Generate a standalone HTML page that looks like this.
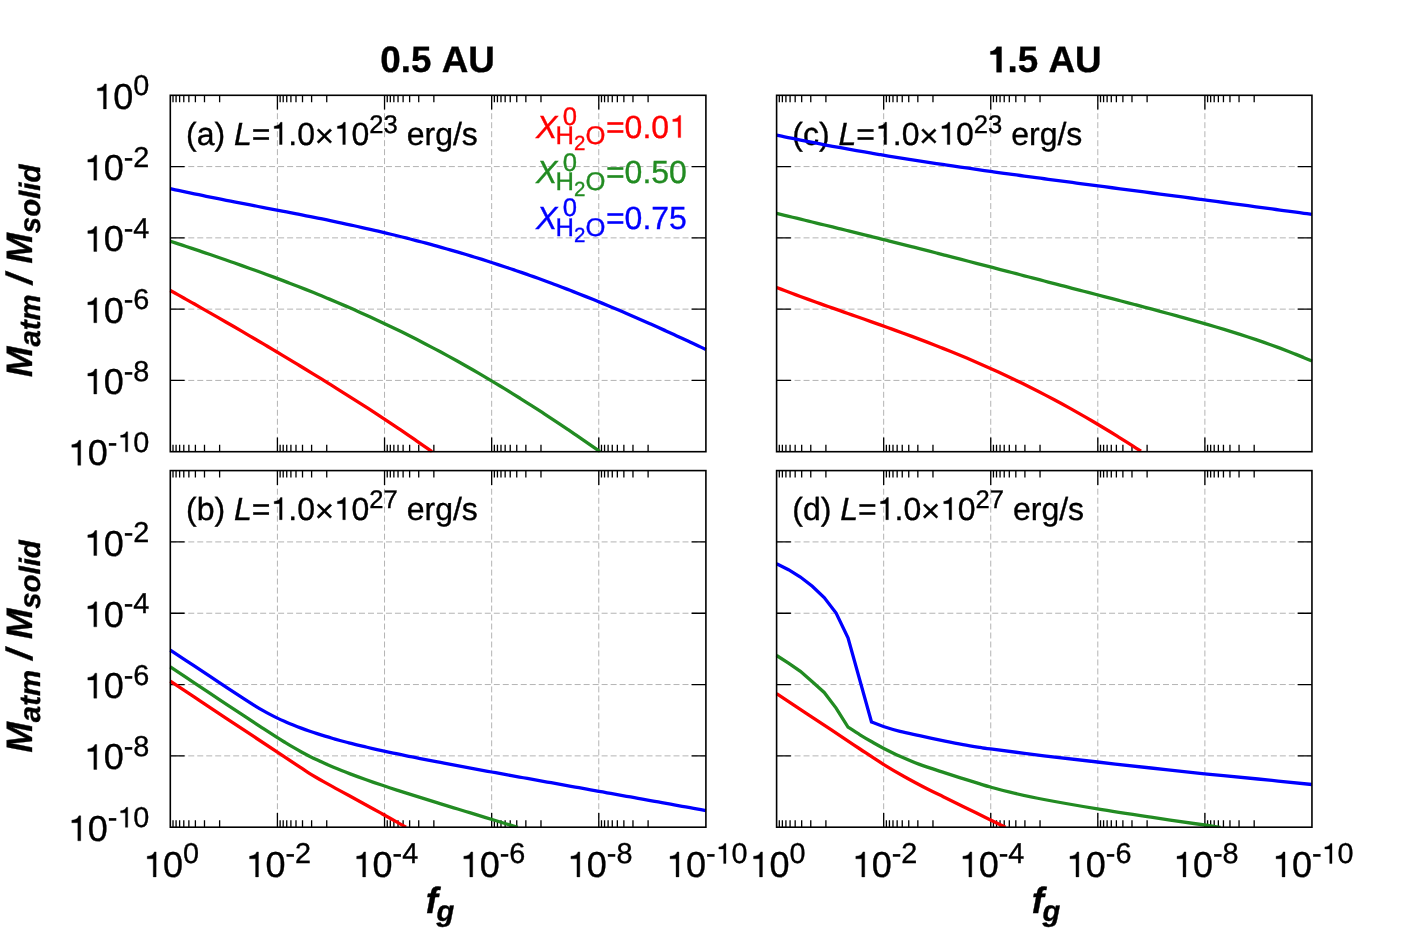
<!DOCTYPE html>
<html><head><meta charset="utf-8"><title>chart</title>
<style>html,body{margin:0;padding:0;background:#fff;overflow:hidden;}svg{display:block;will-change:transform;}text{font-kerning:none;white-space:pre;}</style>
</head><body>
<svg width="1412" height="941" viewBox="0 0 1412 941" font-family='"Liberation Sans", sans-serif' text-rendering="geometricPrecision">
<rect width="1412" height="941" fill="#fff"/>
<defs>
<clipPath id="cpa"><rect x="165.30" y="94.80" width="545.60" height="357.70"/></clipPath>
<clipPath id="cpb"><rect x="165.30" y="470.10" width="545.60" height="357.90"/></clipPath>
<clipPath id="cpc"><rect x="771.60" y="94.80" width="545.35" height="357.70"/></clipPath>
<clipPath id="cpd"><rect x="771.60" y="470.10" width="545.35" height="357.90"/></clipPath>
</defs>
<path d="M277.42,451.70 V95.30 M170.30,166.58 H705.90 M384.54,451.70 V95.30 M170.30,237.86 H705.90 M491.66,451.70 V95.30 M170.30,309.14 H705.90 M598.78,451.70 V95.30 M170.30,380.42 H705.90" stroke="#b4b4b4" stroke-width="1" stroke-dasharray="5.99 2.996" fill="none"/>
<path d="M173.01,95.30 v7.00 M173.01,451.70 v-7.00 M176.08,95.30 v7.00 M176.08,451.70 v-7.00 M179.62,95.30 v7.00 M179.62,451.70 v-7.00 M183.79,95.30 v7.00 M183.79,451.70 v-7.00 M188.87,95.30 v7.00 M188.87,451.70 v-7.00 M195.39,95.30 v7.00 M195.39,451.70 v-7.00 M204.49,95.30 v7.00 M204.49,451.70 v-7.00 M219.62,95.30 v7.00 M219.62,451.70 v-7.00 M277.42,95.30 v14.30 M277.42,451.70 v-14.30 M280.13,95.30 v7.00 M280.13,451.70 v-7.00 M283.20,95.30 v7.00 M283.20,451.70 v-7.00 M286.74,95.30 v7.00 M286.74,451.70 v-7.00 M290.91,95.30 v7.00 M290.91,451.70 v-7.00 M295.99,95.30 v7.00 M295.99,451.70 v-7.00 M302.51,95.30 v7.00 M302.51,451.70 v-7.00 M311.61,95.30 v7.00 M311.61,451.70 v-7.00 M326.74,95.30 v7.00 M326.74,451.70 v-7.00 M384.54,95.30 v14.30 M384.54,451.70 v-14.30 M387.25,95.30 v7.00 M387.25,451.70 v-7.00 M390.32,95.30 v7.00 M390.32,451.70 v-7.00 M393.86,95.30 v7.00 M393.86,451.70 v-7.00 M398.03,95.30 v7.00 M398.03,451.70 v-7.00 M403.11,95.30 v7.00 M403.11,451.70 v-7.00 M409.63,95.30 v7.00 M409.63,451.70 v-7.00 M418.73,95.30 v7.00 M418.73,451.70 v-7.00 M433.86,95.30 v7.00 M433.86,451.70 v-7.00 M491.66,95.30 v14.30 M491.66,451.70 v-14.30 M494.37,95.30 v7.00 M494.37,451.70 v-7.00 M497.44,95.30 v7.00 M497.44,451.70 v-7.00 M500.98,95.30 v7.00 M500.98,451.70 v-7.00 M505.15,95.30 v7.00 M505.15,451.70 v-7.00 M510.23,95.30 v7.00 M510.23,451.70 v-7.00 M516.75,95.30 v7.00 M516.75,451.70 v-7.00 M525.85,95.30 v7.00 M525.85,451.70 v-7.00 M540.98,95.30 v7.00 M540.98,451.70 v-7.00 M598.78,95.30 v14.30 M598.78,451.70 v-14.30 M601.49,95.30 v7.00 M601.49,451.70 v-7.00 M604.56,95.30 v7.00 M604.56,451.70 v-7.00 M608.10,95.30 v7.00 M608.10,451.70 v-7.00 M612.27,95.30 v7.00 M612.27,451.70 v-7.00 M617.35,95.30 v7.00 M617.35,451.70 v-7.00 M623.87,95.30 v7.00 M623.87,451.70 v-7.00 M632.97,95.30 v7.00 M632.97,451.70 v-7.00 M648.10,95.30 v7.00 M648.10,451.70 v-7.00 M170.30,166.58 h14.30 M705.90,166.58 h-14.30 M170.30,237.86 h14.30 M705.90,237.86 h-14.30 M170.30,309.14 h14.30 M705.90,309.14 h-14.30 M170.30,380.42 h14.30 M705.90,380.42 h-14.30" stroke="#000000" stroke-width="1.30" fill="none"/>
<path d="M277.42,827.20 V470.60 M170.30,541.92 H705.90 M384.54,827.20 V470.60 M170.30,613.24 H705.90 M491.66,827.20 V470.60 M170.30,684.56 H705.90 M598.78,827.20 V470.60 M170.30,755.88 H705.90" stroke="#b4b4b4" stroke-width="1" stroke-dasharray="5.99 2.996" fill="none"/>
<path d="M173.01,470.60 v7.00 M173.01,827.20 v-7.00 M176.08,470.60 v7.00 M176.08,827.20 v-7.00 M179.62,470.60 v7.00 M179.62,827.20 v-7.00 M183.79,470.60 v7.00 M183.79,827.20 v-7.00 M188.87,470.60 v7.00 M188.87,827.20 v-7.00 M195.39,470.60 v7.00 M195.39,827.20 v-7.00 M204.49,470.60 v7.00 M204.49,827.20 v-7.00 M219.62,470.60 v7.00 M219.62,827.20 v-7.00 M277.42,470.60 v14.30 M277.42,827.20 v-14.30 M280.13,470.60 v7.00 M280.13,827.20 v-7.00 M283.20,470.60 v7.00 M283.20,827.20 v-7.00 M286.74,470.60 v7.00 M286.74,827.20 v-7.00 M290.91,470.60 v7.00 M290.91,827.20 v-7.00 M295.99,470.60 v7.00 M295.99,827.20 v-7.00 M302.51,470.60 v7.00 M302.51,827.20 v-7.00 M311.61,470.60 v7.00 M311.61,827.20 v-7.00 M326.74,470.60 v7.00 M326.74,827.20 v-7.00 M384.54,470.60 v14.30 M384.54,827.20 v-14.30 M387.25,470.60 v7.00 M387.25,827.20 v-7.00 M390.32,470.60 v7.00 M390.32,827.20 v-7.00 M393.86,470.60 v7.00 M393.86,827.20 v-7.00 M398.03,470.60 v7.00 M398.03,827.20 v-7.00 M403.11,470.60 v7.00 M403.11,827.20 v-7.00 M409.63,470.60 v7.00 M409.63,827.20 v-7.00 M418.73,470.60 v7.00 M418.73,827.20 v-7.00 M433.86,470.60 v7.00 M433.86,827.20 v-7.00 M491.66,470.60 v14.30 M491.66,827.20 v-14.30 M494.37,470.60 v7.00 M494.37,827.20 v-7.00 M497.44,470.60 v7.00 M497.44,827.20 v-7.00 M500.98,470.60 v7.00 M500.98,827.20 v-7.00 M505.15,470.60 v7.00 M505.15,827.20 v-7.00 M510.23,470.60 v7.00 M510.23,827.20 v-7.00 M516.75,470.60 v7.00 M516.75,827.20 v-7.00 M525.85,470.60 v7.00 M525.85,827.20 v-7.00 M540.98,470.60 v7.00 M540.98,827.20 v-7.00 M598.78,470.60 v14.30 M598.78,827.20 v-14.30 M601.49,470.60 v7.00 M601.49,827.20 v-7.00 M604.56,470.60 v7.00 M604.56,827.20 v-7.00 M608.10,470.60 v7.00 M608.10,827.20 v-7.00 M612.27,470.60 v7.00 M612.27,827.20 v-7.00 M617.35,470.60 v7.00 M617.35,827.20 v-7.00 M623.87,470.60 v7.00 M623.87,827.20 v-7.00 M632.97,470.60 v7.00 M632.97,827.20 v-7.00 M648.10,470.60 v7.00 M648.10,827.20 v-7.00 M170.30,541.92 h14.30 M705.90,541.92 h-14.30 M170.30,613.24 h14.30 M705.90,613.24 h-14.30 M170.30,684.56 h14.30 M705.90,684.56 h-14.30 M170.30,755.88 h14.30 M705.90,755.88 h-14.30" stroke="#000000" stroke-width="1.30" fill="none"/>
<path d="M883.67,451.70 V95.30 M776.60,166.58 H1311.95 M990.74,451.70 V95.30 M776.60,237.86 H1311.95 M1097.81,451.70 V95.30 M776.60,309.14 H1311.95 M1204.88,451.70 V95.30 M776.60,380.42 H1311.95" stroke="#b4b4b4" stroke-width="1" stroke-dasharray="5.99 2.996" fill="none"/>
<path d="M779.31,95.30 v7.00 M779.31,451.70 v-7.00 M782.38,95.30 v7.00 M782.38,451.70 v-7.00 M785.91,95.30 v7.00 M785.91,451.70 v-7.00 M790.08,95.30 v7.00 M790.08,451.70 v-7.00 M795.17,95.30 v7.00 M795.17,451.70 v-7.00 M801.68,95.30 v7.00 M801.68,451.70 v-7.00 M810.77,95.30 v7.00 M810.77,451.70 v-7.00 M825.90,95.30 v7.00 M825.90,451.70 v-7.00 M883.67,95.30 v14.30 M883.67,451.70 v-14.30 M886.38,95.30 v7.00 M886.38,451.70 v-7.00 M889.45,95.30 v7.00 M889.45,451.70 v-7.00 M892.98,95.30 v7.00 M892.98,451.70 v-7.00 M897.15,95.30 v7.00 M897.15,451.70 v-7.00 M902.24,95.30 v7.00 M902.24,451.70 v-7.00 M908.75,95.30 v7.00 M908.75,451.70 v-7.00 M917.84,95.30 v7.00 M917.84,451.70 v-7.00 M932.97,95.30 v7.00 M932.97,451.70 v-7.00 M990.74,95.30 v14.30 M990.74,451.70 v-14.30 M993.45,95.30 v7.00 M993.45,451.70 v-7.00 M996.52,95.30 v7.00 M996.52,451.70 v-7.00 M1000.05,95.30 v7.00 M1000.05,451.70 v-7.00 M1004.22,95.30 v7.00 M1004.22,451.70 v-7.00 M1009.31,95.30 v7.00 M1009.31,451.70 v-7.00 M1015.82,95.30 v7.00 M1015.82,451.70 v-7.00 M1024.91,95.30 v7.00 M1024.91,451.70 v-7.00 M1040.04,95.30 v7.00 M1040.04,451.70 v-7.00 M1097.81,95.30 v14.30 M1097.81,451.70 v-14.30 M1100.52,95.30 v7.00 M1100.52,451.70 v-7.00 M1103.59,95.30 v7.00 M1103.59,451.70 v-7.00 M1107.12,95.30 v7.00 M1107.12,451.70 v-7.00 M1111.29,95.30 v7.00 M1111.29,451.70 v-7.00 M1116.38,95.30 v7.00 M1116.38,451.70 v-7.00 M1122.89,95.30 v7.00 M1122.89,451.70 v-7.00 M1131.98,95.30 v7.00 M1131.98,451.70 v-7.00 M1147.11,95.30 v7.00 M1147.11,451.70 v-7.00 M1204.88,95.30 v14.30 M1204.88,451.70 v-14.30 M1207.59,95.30 v7.00 M1207.59,451.70 v-7.00 M1210.66,95.30 v7.00 M1210.66,451.70 v-7.00 M1214.19,95.30 v7.00 M1214.19,451.70 v-7.00 M1218.36,95.30 v7.00 M1218.36,451.70 v-7.00 M1223.45,95.30 v7.00 M1223.45,451.70 v-7.00 M1229.96,95.30 v7.00 M1229.96,451.70 v-7.00 M1239.05,95.30 v7.00 M1239.05,451.70 v-7.00 M1254.18,95.30 v7.00 M1254.18,451.70 v-7.00 M776.60,166.58 h14.30 M1311.95,166.58 h-14.30 M776.60,237.86 h14.30 M1311.95,237.86 h-14.30 M776.60,309.14 h14.30 M1311.95,309.14 h-14.30 M776.60,380.42 h14.30 M1311.95,380.42 h-14.30" stroke="#000000" stroke-width="1.30" fill="none"/>
<path d="M883.67,827.20 V470.60 M776.60,541.92 H1311.95 M990.74,827.20 V470.60 M776.60,613.24 H1311.95 M1097.81,827.20 V470.60 M776.60,684.56 H1311.95 M1204.88,827.20 V470.60 M776.60,755.88 H1311.95" stroke="#b4b4b4" stroke-width="1" stroke-dasharray="5.99 2.996" fill="none"/>
<path d="M779.31,470.60 v7.00 M779.31,827.20 v-7.00 M782.38,470.60 v7.00 M782.38,827.20 v-7.00 M785.91,470.60 v7.00 M785.91,827.20 v-7.00 M790.08,470.60 v7.00 M790.08,827.20 v-7.00 M795.17,470.60 v7.00 M795.17,827.20 v-7.00 M801.68,470.60 v7.00 M801.68,827.20 v-7.00 M810.77,470.60 v7.00 M810.77,827.20 v-7.00 M825.90,470.60 v7.00 M825.90,827.20 v-7.00 M883.67,470.60 v14.30 M883.67,827.20 v-14.30 M886.38,470.60 v7.00 M886.38,827.20 v-7.00 M889.45,470.60 v7.00 M889.45,827.20 v-7.00 M892.98,470.60 v7.00 M892.98,827.20 v-7.00 M897.15,470.60 v7.00 M897.15,827.20 v-7.00 M902.24,470.60 v7.00 M902.24,827.20 v-7.00 M908.75,470.60 v7.00 M908.75,827.20 v-7.00 M917.84,470.60 v7.00 M917.84,827.20 v-7.00 M932.97,470.60 v7.00 M932.97,827.20 v-7.00 M990.74,470.60 v14.30 M990.74,827.20 v-14.30 M993.45,470.60 v7.00 M993.45,827.20 v-7.00 M996.52,470.60 v7.00 M996.52,827.20 v-7.00 M1000.05,470.60 v7.00 M1000.05,827.20 v-7.00 M1004.22,470.60 v7.00 M1004.22,827.20 v-7.00 M1009.31,470.60 v7.00 M1009.31,827.20 v-7.00 M1015.82,470.60 v7.00 M1015.82,827.20 v-7.00 M1024.91,470.60 v7.00 M1024.91,827.20 v-7.00 M1040.04,470.60 v7.00 M1040.04,827.20 v-7.00 M1097.81,470.60 v14.30 M1097.81,827.20 v-14.30 M1100.52,470.60 v7.00 M1100.52,827.20 v-7.00 M1103.59,470.60 v7.00 M1103.59,827.20 v-7.00 M1107.12,470.60 v7.00 M1107.12,827.20 v-7.00 M1111.29,470.60 v7.00 M1111.29,827.20 v-7.00 M1116.38,470.60 v7.00 M1116.38,827.20 v-7.00 M1122.89,470.60 v7.00 M1122.89,827.20 v-7.00 M1131.98,470.60 v7.00 M1131.98,827.20 v-7.00 M1147.11,470.60 v7.00 M1147.11,827.20 v-7.00 M1204.88,470.60 v14.30 M1204.88,827.20 v-14.30 M1207.59,470.60 v7.00 M1207.59,827.20 v-7.00 M1210.66,470.60 v7.00 M1210.66,827.20 v-7.00 M1214.19,470.60 v7.00 M1214.19,827.20 v-7.00 M1218.36,470.60 v7.00 M1218.36,827.20 v-7.00 M1223.45,470.60 v7.00 M1223.45,827.20 v-7.00 M1229.96,470.60 v7.00 M1229.96,827.20 v-7.00 M1239.05,470.60 v7.00 M1239.05,827.20 v-7.00 M1254.18,470.60 v7.00 M1254.18,827.20 v-7.00 M776.60,541.92 h14.30 M1311.95,541.92 h-14.30 M776.60,613.24 h14.30 M1311.95,613.24 h-14.30 M776.60,684.56 h14.30 M1311.95,684.56 h-14.30 M776.60,755.88 h14.30 M1311.95,755.88 h-14.30" stroke="#000000" stroke-width="1.30" fill="none"/>
<g stroke="#000" stroke-width="0.35">
<text x="186.00" y="144.50" font-size="32.00" xml:space="preserve">(a) </text><text x="234.00" y="144.50" font-size="32.00" font-style="italic" xml:space="preserve">L</text><text x="251.80" y="144.50" font-size="32.00" xml:space="preserve">=</text><path d="M282.10,144.50L279.54,144.50L279.54,128.44L274.20,128.44L274.20,126.20C277.33,125.84 279.64,124.98 280.53,122.29L282.10,122.29Z"/><text x="288.28" y="144.50" font-size="32.00" xml:space="preserve">.0</text><text x="314.72" y="146.50" font-size="32.96" xml:space="preserve">×</text><path d="M345.33,144.50L342.77,144.50L342.77,128.44L337.43,128.44L337.43,126.20C340.57,125.84 342.87,124.98 343.77,122.29L345.33,122.29Z"/><text x="351.51" y="144.50" font-size="32.00" xml:space="preserve">0</text><text x="369.31" y="132.50" font-size="25.60" xml:space="preserve">23</text><text x="397.79" y="144.50" font-size="32.00" xml:space="preserve"> erg/s</text>
<text x="792.30" y="144.50" font-size="32.00" xml:space="preserve">(c) </text><text x="838.50" y="144.50" font-size="32.00" font-style="italic" xml:space="preserve">L</text><text x="856.30" y="144.50" font-size="32.00" xml:space="preserve">=</text><path d="M886.60,144.50L884.04,144.50L884.04,128.44L878.70,128.44L878.70,126.20C881.84,125.84 884.14,124.98 885.04,122.29L886.60,122.29Z"/><text x="892.78" y="144.50" font-size="32.00" xml:space="preserve">.0</text><text x="919.22" y="146.50" font-size="32.96" xml:space="preserve">×</text><path d="M949.84,144.50L947.28,144.50L947.28,128.44L941.93,128.44L941.93,126.20C945.07,125.84 947.37,124.98 948.27,122.29L949.84,122.29Z"/><text x="956.02" y="144.50" font-size="32.00" xml:space="preserve">0</text><text x="973.81" y="132.50" font-size="25.60" xml:space="preserve">23</text><text x="1002.29" y="144.50" font-size="32.00" xml:space="preserve"> erg/s</text>
<text x="186.00" y="519.70" font-size="32.00" xml:space="preserve">(b) </text><text x="234.00" y="519.70" font-size="32.00" font-style="italic" xml:space="preserve">L</text><text x="251.80" y="519.70" font-size="32.00" xml:space="preserve">=</text><path d="M282.10,519.70L279.54,519.70L279.54,503.64L274.20,503.64L274.20,501.40C277.33,501.04 279.64,500.18 280.53,497.49L282.10,497.49Z"/><text x="288.28" y="519.70" font-size="32.00" xml:space="preserve">.0</text><text x="314.72" y="521.70" font-size="32.96" xml:space="preserve">×</text><path d="M345.33,519.70L342.77,519.70L342.77,503.64L337.43,503.64L337.43,501.40C340.57,501.04 342.87,500.18 343.77,497.49L345.33,497.49Z"/><text x="351.51" y="519.70" font-size="32.00" xml:space="preserve">0</text><text x="369.31" y="507.70" font-size="25.60" xml:space="preserve">27</text><text x="397.79" y="519.70" font-size="32.00" xml:space="preserve"> erg/s</text>
<text x="792.30" y="519.70" font-size="32.00" xml:space="preserve">(d) </text><text x="840.30" y="519.70" font-size="32.00" font-style="italic" xml:space="preserve">L</text><text x="858.10" y="519.70" font-size="32.00" xml:space="preserve">=</text><path d="M888.40,519.70L885.84,519.70L885.84,503.64L880.50,503.64L880.50,501.40C883.63,501.04 885.94,500.18 886.83,497.49L888.40,497.49Z"/><text x="894.58" y="519.70" font-size="32.00" xml:space="preserve">.0</text><text x="921.02" y="521.70" font-size="32.96" xml:space="preserve">×</text><path d="M951.63,519.70L949.07,519.70L949.07,503.64L943.73,503.64L943.73,501.40C946.87,501.04 949.17,500.18 950.07,497.49L951.63,497.49Z"/><text x="957.81" y="519.70" font-size="32.00" xml:space="preserve">0</text><text x="975.61" y="507.70" font-size="25.60" xml:space="preserve">27</text><text x="1004.09" y="519.70" font-size="32.00" xml:space="preserve"> erg/s</text>
</g>
<g clip-path="url(#cpa)" fill="none" stroke-width="3.30" stroke-linejoin="miter" stroke-miterlimit="10" stroke-linecap="butt">
<path d="M170.30,290.48 C171.62,291.21 175.59,293.41 178.23,294.89 C180.87,296.37 183.52,297.85 186.16,299.34 C188.80,300.82 191.45,302.31 194.09,303.81 C196.73,305.30 199.38,306.80 202.02,308.31 C204.66,309.81 207.31,311.32 209.95,312.83 C212.59,314.35 215.24,315.86 217.88,317.38 C220.53,318.90 223.17,320.43 225.81,321.96 C228.46,323.49 231.10,325.02 233.74,326.55 C236.39,328.09 239.03,329.63 241.67,331.17 C244.32,332.72 246.96,334.26 249.60,335.82 C252.25,337.37 254.89,338.92 257.53,340.48 C260.18,342.04 262.82,343.60 265.46,345.17 C268.11,346.73 270.75,348.31 273.39,349.88 C276.04,351.45 278.68,353.03 281.32,354.62 C283.97,356.20 286.61,357.79 289.25,359.38 C291.90,360.97 294.54,362.56 297.18,364.16 C299.83,365.76 302.47,367.37 305.12,368.98 C307.76,370.59 310.40,372.20 313.05,373.82 C315.69,375.44 318.33,377.07 320.98,378.70 C323.62,380.33 326.26,381.96 328.91,383.60 C331.55,385.25 334.19,386.89 336.84,388.55 C339.48,390.20 342.12,391.86 344.77,393.53 C347.41,395.19 350.05,396.87 352.70,398.55 C355.34,400.23 357.98,401.91 360.63,403.61 C363.27,405.30 365.91,407.01 368.56,408.72 C371.20,410.43 373.84,412.15 376.49,413.87 C379.13,415.60 381.77,417.34 384.42,419.08 C387.06,420.83 389.71,422.58 392.35,424.35 C394.99,426.11 397.64,427.89 400.28,429.67 C402.92,431.46 405.57,433.25 408.21,435.06 C410.85,436.87 413.50,438.69 416.14,440.52 C418.78,442.35 421.43,444.19 424.07,446.05 C426.71,447.90 430.68,450.72 432.00,451.65" stroke="#ff0000"/>
<path d="M170.30,241.21 C171.63,241.65 175.60,242.98 178.26,243.86 C180.91,244.74 183.56,245.62 186.21,246.50 C188.87,247.39 191.52,248.26 194.17,249.15 C196.82,250.03 199.48,250.92 202.13,251.82 C204.78,252.71 207.43,253.63 210.09,254.54 C212.74,255.45 215.39,256.36 218.04,257.28 C220.70,258.19 223.35,259.11 226.00,260.03 C228.65,260.95 231.31,261.87 233.96,262.80 C236.61,263.73 239.26,264.66 241.92,265.60 C244.57,266.54 247.22,267.48 249.87,268.43 C252.53,269.37 255.18,270.32 257.83,271.28 C260.48,272.24 263.14,273.21 265.79,274.19 C268.44,275.17 271.09,276.15 273.75,277.14 C276.40,278.14 279.05,279.13 281.70,280.14 C284.36,281.15 287.01,282.16 289.66,283.18 C292.31,284.20 294.97,285.23 297.62,286.26 C300.27,287.30 302.92,288.34 305.58,289.40 C308.23,290.45 310.88,291.51 313.53,292.58 C316.19,293.65 318.84,294.73 321.49,295.82 C324.14,296.91 326.80,298.01 329.45,299.12 C332.10,300.22 334.75,301.34 337.41,302.47 C340.06,303.60 342.71,304.73 345.36,305.88 C348.02,307.03 350.67,308.19 353.32,309.36 C355.97,310.53 358.63,311.71 361.28,312.90 C363.93,314.09 366.58,315.29 369.24,316.50 C371.89,317.72 374.54,318.94 377.19,320.17 C379.85,321.41 382.50,322.66 385.15,323.91 C387.80,325.17 390.45,326.44 393.11,327.72 C395.76,329.00 398.41,330.30 401.06,331.60 C403.72,332.91 406.37,334.22 409.02,335.55 C411.67,336.88 414.33,338.22 416.98,339.57 C419.63,340.93 422.28,342.29 424.94,343.67 C427.59,345.05 430.24,346.43 432.89,347.84 C435.55,349.24 438.20,350.65 440.85,352.08 C443.50,353.50 446.16,354.94 448.81,356.39 C451.46,357.84 454.11,359.31 456.77,360.78 C459.42,362.26 462.07,363.74 464.72,365.24 C467.38,366.74 470.03,368.25 472.68,369.78 C475.33,371.30 477.99,372.84 480.64,374.39 C483.29,375.94 485.94,377.50 488.60,379.07 C491.25,380.64 493.90,382.23 496.55,383.82 C499.21,385.42 501.86,387.03 504.51,388.65 C507.16,390.27 509.82,391.90 512.47,393.54 C515.12,395.19 517.77,396.84 520.43,398.51 C523.08,400.18 525.73,401.85 528.38,403.54 C531.04,405.23 533.69,406.93 536.34,408.64 C538.99,410.36 541.65,412.08 544.30,413.81 C546.95,415.54 549.60,417.29 552.26,419.04 C554.91,420.80 557.56,422.56 560.21,424.34 C562.87,426.11 565.52,427.90 568.17,429.69 C570.82,431.49 573.48,433.29 576.13,435.10 C578.78,436.92 581.43,438.74 584.09,440.58 C586.74,442.41 589.39,444.25 592.04,446.10 C594.70,447.95 598.67,450.75 600.00,451.68" stroke="#228b22"/>
<path d="M170.30,188.72 C171.63,189.01 175.63,189.89 178.29,190.46 C180.96,191.03 183.62,191.60 186.29,192.16 C188.95,192.72 191.62,193.27 194.28,193.82 C196.95,194.37 199.61,194.92 202.28,195.46 C204.94,196.00 207.61,196.54 210.27,197.08 C212.93,197.61 215.60,198.15 218.26,198.68 C220.93,199.20 223.59,199.73 226.26,200.26 C228.92,200.78 231.59,201.30 234.25,201.83 C236.92,202.35 239.58,202.87 242.25,203.39 C244.91,203.91 247.58,204.43 250.24,204.95 C252.90,205.47 255.57,205.99 258.23,206.50 C260.90,207.02 263.56,207.51 266.23,208.02 C268.89,208.53 271.56,209.04 274.22,209.55 C276.89,210.06 279.55,210.57 282.22,211.08 C284.88,211.59 287.55,212.11 290.21,212.63 C292.88,213.14 295.54,213.66 298.20,214.19 C300.87,214.71 303.53,215.24 306.20,215.77 C308.86,216.29 311.53,216.83 314.19,217.36 C316.86,217.90 319.52,218.44 322.19,218.99 C324.85,219.53 327.52,220.08 330.18,220.64 C332.85,221.19 335.51,221.75 338.17,222.31 C340.84,222.88 343.50,223.44 346.17,224.02 C348.83,224.59 351.50,225.17 354.16,225.76 C356.83,226.34 359.49,226.94 362.16,227.53 C364.82,228.13 367.49,228.74 370.15,229.35 C372.82,229.96 375.48,230.57 378.14,231.20 C380.81,231.82 383.47,232.45 386.14,233.09 C388.80,233.72 391.47,234.37 394.13,235.02 C396.80,235.67 399.46,236.33 402.13,237.00 C404.79,237.66 407.46,238.34 410.12,239.02 C412.79,239.70 415.45,240.39 418.11,241.09 C420.78,241.79 423.44,242.49 426.11,243.20 C428.77,243.92 431.44,244.64 434.10,245.37 C436.77,246.10 439.43,246.84 442.10,247.59 C444.76,248.33 447.43,249.09 450.09,249.85 C452.76,250.62 455.42,251.39 458.09,252.17 C460.75,252.95 463.41,253.74 466.08,254.54 C468.74,255.34 471.41,256.15 474.07,256.97 C476.74,257.78 479.40,258.61 482.07,259.45 C484.73,260.28 487.40,261.13 490.06,261.98 C492.73,262.83 495.39,263.69 498.06,264.57 C500.72,265.44 503.38,266.32 506.05,267.21 C508.71,268.10 511.38,269.00 514.04,269.91 C516.71,270.81 519.37,271.73 522.04,272.66 C524.70,273.58 527.37,274.52 530.03,275.46 C532.70,276.41 535.36,277.36 538.03,278.32 C540.69,279.29 543.35,280.26 546.02,281.24 C548.68,282.22 551.35,283.21 554.01,284.21 C556.68,285.21 559.34,286.21 562.01,287.23 C564.67,288.25 567.34,289.27 570.00,290.30 C572.67,291.34 575.33,292.38 578.00,293.43 C580.66,294.48 583.32,295.54 585.99,296.61 C588.65,297.68 591.32,298.75 593.98,299.84 C596.65,300.92 599.31,302.01 601.98,303.11 C604.64,304.21 607.31,305.32 609.97,306.44 C612.64,307.55 615.30,308.68 617.97,309.81 C620.63,310.94 623.30,312.08 625.96,313.22 C628.62,314.37 631.29,315.52 633.95,316.68 C636.62,317.84 639.28,319.01 641.95,320.18 C644.61,321.36 647.28,322.54 649.94,323.73 C652.61,324.91 655.27,326.11 657.94,327.31 C660.60,328.51 663.27,329.71 665.93,330.93 C668.59,332.14 671.26,333.35 673.92,334.58 C676.59,335.80 679.25,337.03 681.92,338.26 C684.58,339.50 687.25,340.73 689.91,341.98 C692.58,343.22 695.24,344.47 697.91,345.72 C700.57,346.97 704.57,348.86 705.90,349.49" stroke="#0000ff"/>
</g>
<g clip-path="url(#cpb)" fill="none" stroke-width="3.30" stroke-linejoin="miter" stroke-miterlimit="10" stroke-linecap="butt">
<path d="M170.30,681.15 C175.25,684.44 188.38,693.16 200.00,700.87 C211.62,708.58 226.67,718.56 240.00,727.40 C253.33,736.25 270.00,747.31 280.00,753.93 C290.00,760.56 295.31,764.05 300.00,767.15 C304.69,770.25 305.44,770.82 308.15,772.54 C310.87,774.26 313.59,775.87 316.31,777.47 C319.03,779.07 321.74,780.61 324.46,782.15 C327.18,783.68 329.90,785.18 332.62,786.68 C335.33,788.18 338.05,789.65 340.77,791.14 C343.49,792.62 346.21,794.09 348.92,795.57 C351.64,797.05 354.36,798.52 357.08,800.00 C359.79,801.48 362.51,802.97 365.23,804.46 C367.95,805.95 370.67,807.44 373.38,808.94 C376.10,810.44 378.82,811.95 381.54,813.46 C384.26,814.97 386.97,816.49 389.69,818.02 C392.41,819.55 395.13,821.08 397.85,822.62 C400.56,824.16 404.64,826.48 406.00,827.26" stroke="#ff0000"/>
<path d="M170.30,666.80 C174.17,669.38 185.38,676.88 193.50,682.30 C201.62,687.73 210.50,693.69 219.00,699.34 C227.50,704.99 237.22,711.39 244.50,716.20 C251.78,721.01 257.22,724.62 262.70,728.20 C268.18,731.78 273.61,735.28 277.40,737.69 C281.19,740.10 282.74,741.02 285.41,742.64 C288.08,744.27 290.76,745.89 293.43,747.45 C296.10,749.00 298.77,750.51 301.44,751.97 C304.11,753.42 306.78,754.82 309.45,756.18 C312.12,757.54 314.80,758.85 317.47,760.11 C320.14,761.38 322.81,762.60 325.48,763.79 C328.15,764.98 330.82,766.13 333.49,767.25 C336.16,768.38 338.84,769.47 341.51,770.53 C344.18,771.60 346.85,772.64 349.52,773.65 C352.19,774.67 354.86,775.67 357.53,776.65 C360.20,777.63 362.88,778.58 365.55,779.53 C368.22,780.48 370.89,781.41 373.56,782.32 C376.23,783.24 378.90,784.15 381.57,785.04 C384.24,785.94 386.92,786.83 389.59,787.70 C392.26,788.58 394.93,789.45 397.60,790.31 C400.27,791.17 402.94,792.03 405.61,792.88 C408.28,793.73 410.96,794.57 413.63,795.41 C416.30,796.26 418.97,797.09 421.64,797.92 C424.31,798.76 426.98,799.59 429.65,800.41 C432.32,801.24 435.00,802.06 437.67,802.89 C440.34,803.71 443.01,804.53 445.68,805.35 C448.35,806.17 451.02,806.98 453.69,807.80 C456.36,808.62 459.04,809.43 461.71,810.25 C464.38,811.07 467.05,811.88 469.72,812.70 C472.39,813.51 475.06,814.33 477.73,815.14 C480.40,815.96 483.08,816.77 485.75,817.59 C488.42,818.40 491.09,819.22 493.76,820.04 C496.43,820.86 499.10,821.67 501.77,822.49 C504.44,823.31 507.12,824.13 509.79,824.95 C512.46,825.77 516.46,827.01 517.80,827.42" stroke="#228b22"/>
<path d="M170.30,650.10 C174.17,652.66 185.38,660.10 193.50,665.48 C201.62,670.86 210.50,676.79 219.00,682.39 C227.50,687.99 238.50,695.20 244.50,699.10 C250.50,703.00 251.97,703.92 255.00,705.80 C258.03,707.68 260.20,708.97 262.70,710.40 C265.20,711.83 267.55,713.11 270.00,714.40 C272.45,715.69 274.84,716.91 277.40,718.13 C279.96,719.34 282.69,720.53 285.34,721.69 C287.98,722.84 290.63,723.96 293.27,725.04 C295.92,726.11 298.56,727.15 301.21,728.15 C303.85,729.14 306.50,730.10 309.14,731.02 C311.79,731.95 314.43,732.83 317.08,733.69 C319.72,734.55 322.37,735.38 325.01,736.18 C327.66,736.99 330.30,737.76 332.95,738.52 C335.59,739.27 338.24,740.00 340.88,740.72 C343.53,741.43 346.17,742.13 348.82,742.80 C351.46,743.48 354.11,744.15 356.75,744.79 C359.40,745.44 362.04,746.08 364.69,746.70 C367.33,747.33 369.98,747.94 372.62,748.54 C375.27,749.14 377.91,749.73 380.56,750.32 C383.20,750.90 385.85,751.47 388.49,752.04 C391.14,752.61 393.78,753.17 396.43,753.72 C399.07,754.27 401.72,754.82 404.36,755.36 C407.01,755.90 409.65,756.44 412.30,756.97 C414.94,757.50 417.59,758.03 420.23,758.55 C422.88,759.07 425.52,759.59 428.17,760.11 C430.81,760.62 433.46,761.13 436.10,761.64 C438.75,762.15 441.39,762.66 444.04,763.16 C446.68,763.66 449.33,764.16 451.97,764.66 C454.62,765.16 457.26,765.65 459.91,766.15 C462.55,766.64 465.20,767.13 467.84,767.62 C470.49,768.11 473.13,768.60 475.78,769.09 C478.42,769.58 481.07,770.06 483.71,770.55 C486.36,771.03 489.00,771.52 491.65,772.00 C494.30,772.48 496.94,772.96 499.59,773.44 C502.23,773.92 504.88,774.40 507.52,774.88 C510.17,775.36 512.81,775.84 515.46,776.32 C518.10,776.80 520.75,777.27 523.39,777.75 C526.04,778.23 528.68,778.70 531.33,779.18 C533.97,779.66 536.62,780.13 539.26,780.61 C541.91,781.08 544.55,781.56 547.20,782.03 C549.84,782.51 552.49,782.98 555.13,783.46 C557.78,783.93 560.42,784.41 563.07,784.88 C565.71,785.35 568.36,785.83 571.00,786.30 C573.65,786.78 576.29,787.25 578.94,787.72 C581.58,788.20 584.23,788.67 586.87,789.15 C589.52,789.62 592.16,790.09 594.81,790.57 C597.45,791.04 600.10,791.52 602.74,791.99 C605.39,792.47 608.03,792.94 610.68,793.41 C613.32,793.89 615.97,794.36 618.61,794.84 C621.26,795.31 623.90,795.79 626.55,796.26 C629.19,796.74 631.84,797.21 634.48,797.69 C637.13,798.16 639.77,798.64 642.42,799.12 C645.06,799.59 647.71,800.07 650.35,800.54 C653.00,801.02 655.64,801.50 658.29,801.97 C660.93,802.45 663.58,802.93 666.22,803.40 C668.87,803.88 671.51,804.36 674.16,804.83 C676.80,805.31 679.45,805.79 682.09,806.27 C684.74,806.74 687.38,807.22 690.03,807.70 C692.67,808.18 695.32,808.66 697.96,809.13 C700.61,809.61 704.58,810.33 705.90,810.57" stroke="#0000ff"/>
</g>
<g clip-path="url(#cpc)" fill="none" stroke-width="3.30" stroke-linejoin="miter" stroke-miterlimit="10" stroke-linecap="butt">
<path d="M776.60,287.46 C777.92,287.97 781.88,289.51 784.52,290.52 C787.16,291.53 789.80,292.53 792.44,293.53 C795.08,294.52 797.72,295.50 800.37,296.47 C803.01,297.45 805.65,298.42 808.29,299.38 C810.93,300.34 813.57,301.29 816.21,302.24 C818.85,303.19 821.49,304.13 824.13,305.08 C826.77,306.02 829.41,306.95 832.05,307.89 C834.69,308.82 837.33,309.75 839.97,310.68 C842.61,311.61 845.26,312.54 847.90,313.47 C850.54,314.40 853.18,315.32 855.82,316.25 C858.46,317.18 861.10,318.11 863.74,319.04 C866.38,319.97 869.02,320.90 871.66,321.84 C874.30,322.77 876.94,323.71 879.58,324.65 C882.22,325.59 884.86,326.53 887.50,327.48 C890.14,328.43 892.79,329.39 895.43,330.35 C898.07,331.30 900.71,332.27 903.35,333.24 C905.99,334.21 908.63,335.19 911.27,336.17 C913.91,337.15 916.55,338.14 919.19,339.14 C921.83,340.14 924.47,341.15 927.11,342.16 C929.75,343.18 932.39,344.20 935.03,345.23 C937.68,346.27 940.32,347.31 942.96,348.36 C945.60,349.41 948.24,350.47 950.88,351.54 C953.52,352.61 956.16,353.69 958.80,354.79 C961.44,355.88 964.08,356.98 966.72,358.10 C969.36,359.21 972.00,360.34 974.64,361.48 C977.28,362.61 979.92,363.76 982.57,364.93 C985.21,366.09 987.85,367.26 990.49,368.45 C993.13,369.64 995.77,370.84 998.41,372.05 C1001.05,373.26 1003.69,374.49 1006.33,375.73 C1008.97,376.97 1011.61,378.22 1014.25,379.49 C1016.89,380.76 1019.53,382.04 1022.17,383.33 C1024.81,384.63 1027.46,385.93 1030.10,387.26 C1032.74,388.58 1035.38,389.92 1038.02,391.27 C1040.66,392.62 1043.30,393.98 1045.94,395.36 C1048.58,396.74 1051.22,398.14 1053.86,399.55 C1056.50,400.95 1059.14,402.38 1061.78,403.81 C1064.42,405.25 1067.06,406.70 1069.70,408.17 C1072.34,409.64 1074.99,411.12 1077.63,412.62 C1080.27,414.11 1082.91,415.62 1085.55,417.15 C1088.19,418.67 1090.83,420.21 1093.47,421.76 C1096.11,423.32 1098.75,424.89 1101.39,426.47 C1104.03,428.05 1106.67,429.65 1109.31,431.26 C1111.95,432.87 1114.59,434.49 1117.23,436.13 C1119.88,437.77 1122.52,439.42 1125.16,441.09 C1127.80,442.75 1130.44,444.43 1133.08,446.12 C1135.72,447.81 1139.68,450.38 1141.00,451.24" stroke="#ff0000"/>
<path d="M776.60,213.33 C777.93,213.66 781.93,214.63 784.59,215.28 C787.25,215.94 789.92,216.58 792.58,217.23 C795.24,217.88 797.91,218.53 800.57,219.18 C803.23,219.82 805.90,220.47 808.56,221.12 C811.22,221.77 813.89,222.42 816.55,223.06 C819.21,223.71 821.88,224.36 824.54,225.01 C827.21,225.66 829.87,226.31 832.53,226.96 C835.20,227.61 837.86,228.26 840.52,228.92 C843.19,229.57 845.85,230.22 848.51,230.88 C851.18,231.53 853.84,232.19 856.50,232.85 C859.17,233.50 861.83,234.16 864.49,234.82 C867.16,235.48 869.82,236.14 872.48,236.81 C875.15,237.47 877.81,238.13 880.47,238.80 C883.14,239.47 885.80,240.13 888.46,240.80 C891.13,241.47 893.79,242.14 896.45,242.81 C899.12,243.48 901.78,244.16 904.44,244.83 C907.11,245.51 909.77,246.18 912.44,246.86 C915.10,247.54 917.76,248.21 920.43,248.89 C923.09,249.57 925.75,250.25 928.42,250.94 C931.08,251.62 933.74,252.30 936.41,252.98 C939.07,253.67 941.73,254.35 944.40,255.04 C947.06,255.73 949.72,256.41 952.39,257.10 C955.05,257.79 957.71,258.48 960.38,259.17 C963.04,259.86 965.70,260.55 968.37,261.24 C971.03,261.93 973.69,262.62 976.36,263.31 C979.02,264.00 981.68,264.70 984.35,265.39 C987.01,266.08 989.67,266.78 992.34,267.47 C995.00,268.16 997.66,268.86 1000.33,269.55 C1002.99,270.24 1005.66,270.94 1008.32,271.63 C1010.98,272.33 1013.65,273.02 1016.31,273.71 C1018.97,274.41 1021.64,275.10 1024.30,275.80 C1026.96,276.49 1029.63,277.18 1032.29,277.88 C1034.95,278.57 1037.62,279.27 1040.28,279.96 C1042.94,280.65 1045.61,281.35 1048.27,282.04 C1050.93,282.73 1053.60,283.43 1056.26,284.12 C1058.92,284.81 1061.59,285.50 1064.25,286.20 C1066.91,286.89 1069.58,287.58 1072.24,288.28 C1074.90,288.97 1077.57,289.66 1080.23,290.35 C1082.89,291.05 1085.56,291.74 1088.22,292.43 C1090.89,293.12 1093.55,293.82 1096.21,294.51 C1098.88,295.20 1101.54,295.90 1104.20,296.59 C1106.87,297.28 1109.53,297.98 1112.19,298.67 C1114.86,299.37 1117.52,300.06 1120.18,300.76 C1122.85,301.46 1125.51,302.16 1128.17,302.85 C1130.84,303.55 1133.50,304.25 1136.16,304.96 C1138.83,305.66 1141.49,306.36 1144.15,307.07 C1146.82,307.77 1149.48,308.48 1152.14,309.19 C1154.81,309.90 1157.47,310.62 1160.13,311.33 C1162.80,312.05 1165.46,312.77 1168.12,313.49 C1170.79,314.21 1173.45,314.94 1176.11,315.67 C1178.78,316.40 1181.44,317.14 1184.11,317.88 C1186.77,318.62 1189.43,319.36 1192.10,320.11 C1194.76,320.86 1197.42,321.62 1200.09,322.38 C1202.75,323.14 1205.41,323.91 1208.08,324.68 C1210.74,325.46 1213.40,326.24 1216.07,327.03 C1218.73,327.83 1221.39,328.63 1224.06,329.43 C1226.72,330.24 1229.38,331.06 1232.05,331.89 C1234.71,332.72 1237.37,333.55 1240.04,334.40 C1242.70,335.26 1245.36,336.12 1248.03,336.99 C1250.69,337.86 1253.35,338.75 1256.02,339.65 C1258.68,340.55 1261.34,341.46 1264.01,342.39 C1266.67,343.32 1269.34,344.27 1272.00,345.23 C1274.66,346.19 1277.33,347.17 1279.99,348.16 C1282.65,349.16 1285.32,350.17 1287.98,351.21 C1290.64,352.24 1293.31,353.30 1295.97,354.37 C1298.63,355.45 1301.30,356.55 1303.96,357.67 C1306.62,358.79 1310.62,360.53 1311.95,361.10" stroke="#228b22"/>
<path d="M776.60,135.10 C777.93,135.39 781.93,136.24 784.59,136.80 C787.25,137.36 789.92,137.91 792.58,138.46 C795.24,139.01 797.91,139.55 800.57,140.09 C803.23,140.62 805.90,141.15 808.56,141.68 C811.22,142.20 813.89,142.72 816.55,143.24 C819.21,143.75 821.88,144.26 824.54,144.76 C827.21,145.27 829.87,145.77 832.53,146.26 C835.20,146.76 837.86,147.25 840.52,147.73 C843.19,148.22 845.85,148.70 848.51,149.17 C851.18,149.65 853.84,150.12 856.50,150.59 C859.17,151.06 861.83,151.52 864.49,151.98 C867.16,152.44 869.82,152.89 872.48,153.35 C875.15,153.80 877.81,154.24 880.47,154.69 C883.14,155.13 885.80,155.57 888.46,156.01 C891.13,156.45 893.79,156.88 896.45,157.31 C899.12,157.74 901.78,158.17 904.44,158.59 C907.11,159.02 909.77,159.44 912.44,159.85 C915.10,160.27 917.76,160.69 920.43,161.10 C923.09,161.51 925.75,161.92 928.42,162.33 C931.08,162.73 933.74,163.14 936.41,163.54 C939.07,163.94 941.73,164.34 944.40,164.73 C947.06,165.13 949.72,165.52 952.39,165.92 C955.05,166.31 957.71,166.70 960.38,167.08 C963.04,167.47 965.70,167.86 968.37,168.24 C971.03,168.62 973.69,169.01 976.36,169.38 C979.02,169.76 981.68,170.14 984.35,170.52 C987.01,170.89 989.67,171.27 992.34,171.64 C995.00,172.02 997.66,172.39 1000.33,172.76 C1002.99,173.13 1005.66,173.50 1008.32,173.86 C1010.98,174.23 1013.65,174.60 1016.31,174.96 C1018.97,175.32 1021.64,175.69 1024.30,176.05 C1026.96,176.41 1029.63,176.77 1032.29,177.13 C1034.95,177.50 1037.62,177.85 1040.28,178.21 C1042.94,178.57 1045.61,178.93 1048.27,179.29 C1050.93,179.64 1053.60,180.00 1056.26,180.35 C1058.92,180.71 1061.59,181.06 1064.25,181.42 C1066.91,181.77 1069.58,182.13 1072.24,182.48 C1074.90,182.83 1077.57,183.18 1080.23,183.54 C1082.89,183.89 1085.56,184.24 1088.22,184.59 C1090.89,184.94 1093.55,185.29 1096.21,185.64 C1098.88,185.99 1101.54,186.34 1104.20,186.69 C1106.87,187.04 1109.53,187.39 1112.19,187.74 C1114.86,188.09 1117.52,188.44 1120.18,188.79 C1122.85,189.14 1125.51,189.49 1128.17,189.84 C1130.84,190.19 1133.50,190.54 1136.16,190.89 C1138.83,191.24 1141.49,191.59 1144.15,191.94 C1146.82,192.29 1149.48,192.64 1152.14,192.99 C1154.81,193.34 1157.47,193.69 1160.13,194.04 C1162.80,194.39 1165.46,194.74 1168.12,195.09 C1170.79,195.44 1173.45,195.79 1176.11,196.14 C1178.78,196.50 1181.44,196.85 1184.11,197.20 C1186.77,197.55 1189.43,197.90 1192.10,198.26 C1194.76,198.61 1197.42,198.96 1200.09,199.31 C1202.75,199.67 1205.41,200.02 1208.08,200.38 C1210.74,200.73 1213.40,201.08 1216.07,201.44 C1218.73,201.79 1221.39,202.15 1224.06,202.51 C1226.72,202.86 1229.38,203.22 1232.05,203.57 C1234.71,203.93 1237.37,204.29 1240.04,204.65 C1242.70,205.00 1245.36,205.36 1248.03,205.72 C1250.69,206.08 1253.35,206.44 1256.02,206.80 C1258.68,207.16 1261.34,207.52 1264.01,207.88 C1266.67,208.24 1269.34,208.60 1272.00,208.96 C1274.66,209.32 1277.33,209.68 1279.99,210.04 C1282.65,210.41 1285.32,210.77 1287.98,211.13 C1290.64,211.49 1293.31,211.86 1295.97,212.22 C1298.63,212.59 1301.30,212.95 1303.96,213.31 C1306.62,213.68 1310.62,214.23 1311.95,214.41" stroke="#0000ff"/>
</g>
<g clip-path="url(#cpd)" fill="none" stroke-width="3.30" stroke-linejoin="miter" stroke-miterlimit="10" stroke-linecap="butt">
<path d="M776.60,693.60 C785.67,699.62 817.10,720.47 831.00,729.70 C844.90,738.93 851.27,743.23 860.00,749.00 C868.73,754.77 875.90,759.63 883.40,764.30 C890.90,768.97 897.57,772.83 905.00,777.00 C912.43,781.17 921.55,785.98 928.00,789.30 C934.45,792.62 937.87,794.05 943.70,796.90 C949.53,799.75 955.20,802.57 963.00,806.40 C970.80,810.23 983.42,816.42 990.50,819.90 C997.58,823.38 1003.00,826.07 1005.50,827.30" stroke="#ff0000"/>
<path d="M776.60,655.50 L788.50,663.10 L800.40,671.30 L812.30,681.80 L824.20,692.40 L836.10,708.10 L848.00,727.10 C850.00,728.38 856.03,732.35 860.00,734.80 C863.97,737.25 867.90,739.57 871.80,741.80 C875.70,744.03 878.70,745.78 883.40,748.20 C888.10,750.62 893.98,753.60 900.00,756.30 C906.02,759.00 912.00,761.63 919.50,764.40 C927.00,767.17 937.75,770.53 945.00,772.90 C952.25,775.27 957.17,776.77 963.00,778.60 C968.83,780.43 975.43,782.50 980.00,783.90 C984.57,785.30 985.40,785.62 990.40,787.00 C995.40,788.38 1001.07,790.12 1010.00,792.20 C1018.93,794.28 1029.42,796.72 1044.00,799.50 C1058.58,802.28 1079.67,805.95 1097.50,808.90 C1115.33,811.85 1133.17,814.52 1151.00,817.20 C1168.83,819.88 1192.92,823.30 1204.50,825.00 C1216.08,826.70 1217.83,827.00 1220.50,827.40" stroke="#228b22"/>
<path d="M776.60,563.70 L788.50,569.70 L800.40,577.00 L812.30,586.30 L824.20,597.60 L836.10,613.00 L848.00,637.80 L871.50,722.00 C873.48,722.75 878.65,724.93 883.40,726.50 C888.15,728.07 893.98,729.87 900.00,731.40 C906.02,732.93 912.00,734.08 919.50,735.70 C927.00,737.32 937.75,739.62 945.00,741.10 C952.25,742.58 957.17,743.55 963.00,744.60 C968.83,745.65 975.42,746.68 980.00,747.40 C984.58,748.12 979.83,747.50 990.50,748.90 C1001.17,750.30 1026.17,753.62 1044.00,755.80 C1061.83,757.98 1079.67,759.97 1097.50,762.00 C1115.33,764.03 1133.17,766.03 1151.00,768.00 C1168.83,769.97 1186.67,771.97 1204.50,773.80 C1222.33,775.63 1240.09,777.22 1258.00,779.00 C1275.91,780.78 1302.96,783.58 1311.95,784.50" stroke="#0000ff"/>
</g>
<rect x="170.30" y="95.30" width="535.60" height="356.40" fill="none" stroke="#000000" stroke-width="1.60"/>
<rect x="170.30" y="470.60" width="535.60" height="356.60" fill="none" stroke="#000000" stroke-width="1.60"/>
<rect x="776.60" y="95.30" width="535.35" height="356.40" fill="none" stroke="#000000" stroke-width="1.60"/>
<rect x="776.60" y="470.60" width="535.35" height="356.60" fill="none" stroke="#000000" stroke-width="1.60"/>
<g stroke="#000" stroke-width="0.35">
<text x="380.33" y="72.20" font-size="36.80" font-weight="bold" xml:space="preserve">0.5 AU</text>
<path d="M1001.53,72.20L996.60,72.20L996.60,54.43L990.42,54.43L990.42,51.37C993.29,51.19 995.87,49.90 996.82,46.81L1001.53,46.81Z"/><text x="1007.50" y="72.20" font-size="36.80" font-weight="bold" xml:space="preserve">.5 AU</text>
<path d="M106.31,108.90L103.43,108.90L103.43,90.83L97.42,90.83L97.42,88.31C100.94,87.91 103.54,86.94 104.54,83.92L106.31,83.92Z"/><text x="113.26" y="108.90" font-size="36.00" xml:space="preserve">0</text><text x="133.28" y="95.40" font-size="28.80" xml:space="preserve">0</text>
<path d="M96.72,180.18L93.84,180.18L93.84,162.11L87.82,162.11L87.82,159.59C91.35,159.19 93.94,158.22 94.95,155.20L96.72,155.20Z"/><text x="103.67" y="180.18" font-size="36.00" xml:space="preserve">0</text><text x="123.69" y="166.68" font-size="28.80" xml:space="preserve">-2</text>
<path d="M96.72,251.46L93.84,251.46L93.84,233.39L87.82,233.39L87.82,230.87C91.35,230.47 93.94,229.50 94.95,226.48L96.72,226.48Z"/><text x="103.67" y="251.46" font-size="36.00" xml:space="preserve">0</text><text x="123.69" y="237.96" font-size="28.80" xml:space="preserve">-4</text>
<path d="M96.72,322.74L93.84,322.74L93.84,304.67L87.82,304.67L87.82,302.15C91.35,301.75 93.94,300.78 94.95,297.76L96.72,297.76Z"/><text x="103.67" y="322.74" font-size="36.00" xml:space="preserve">0</text><text x="123.69" y="309.24" font-size="28.80" xml:space="preserve">-6</text>
<path d="M96.72,394.02L93.84,394.02L93.84,375.95L87.82,375.95L87.82,373.43C91.35,373.03 93.94,372.06 94.95,369.04L96.72,369.04Z"/><text x="103.67" y="394.02" font-size="36.00" xml:space="preserve">0</text><text x="123.69" y="380.52" font-size="28.80" xml:space="preserve">-8</text>
<path d="M80.70,465.30L77.82,465.30L77.82,447.23L71.81,447.23L71.81,444.71C75.34,444.31 77.93,443.34 78.94,440.32L80.70,440.32Z"/><text x="87.65" y="465.30" font-size="36.00" xml:space="preserve">0</text><text x="107.67" y="451.80" font-size="28.80" xml:space="preserve">-</text><path d="M127.72,451.80L125.42,451.80L125.42,437.34L120.61,437.34L120.61,435.33C123.43,435.01 125.50,434.23 126.31,431.81L127.72,431.81Z"/><text x="133.28" y="451.80" font-size="28.80" xml:space="preserve">0</text>
<path d="M96.72,555.52L93.84,555.52L93.84,537.45L87.82,537.45L87.82,534.93C91.35,534.53 93.94,533.56 94.95,530.54L96.72,530.54Z"/><text x="103.67" y="555.52" font-size="36.00" xml:space="preserve">0</text><text x="123.69" y="542.02" font-size="28.80" xml:space="preserve">-2</text>
<path d="M96.72,626.84L93.84,626.84L93.84,608.77L87.82,608.77L87.82,606.25C91.35,605.85 93.94,604.88 94.95,601.86L96.72,601.86Z"/><text x="103.67" y="626.84" font-size="36.00" xml:space="preserve">0</text><text x="123.69" y="613.34" font-size="28.80" xml:space="preserve">-4</text>
<path d="M96.72,698.16L93.84,698.16L93.84,680.09L87.82,680.09L87.82,677.57C91.35,677.17 93.94,676.20 94.95,673.18L96.72,673.18Z"/><text x="103.67" y="698.16" font-size="36.00" xml:space="preserve">0</text><text x="123.69" y="684.66" font-size="28.80" xml:space="preserve">-6</text>
<path d="M96.72,769.48L93.84,769.48L93.84,751.41L87.82,751.41L87.82,748.89C91.35,748.49 93.94,747.52 94.95,744.50L96.72,744.50Z"/><text x="103.67" y="769.48" font-size="36.00" xml:space="preserve">0</text><text x="123.69" y="755.98" font-size="28.80" xml:space="preserve">-8</text>
<path d="M80.70,840.80L77.82,840.80L77.82,822.73L71.81,822.73L71.81,820.21C75.34,819.81 77.93,818.84 78.94,815.82L80.70,815.82Z"/><text x="87.65" y="840.80" font-size="36.00" xml:space="preserve">0</text><text x="107.67" y="827.30" font-size="28.80" xml:space="preserve">-</text><path d="M127.72,827.30L125.42,827.30L125.42,812.84L120.61,812.84L120.61,810.83C123.43,810.51 125.50,809.73 126.31,807.31L127.72,807.31Z"/><text x="133.28" y="827.30" font-size="28.80" xml:space="preserve">0</text>
<path d="M156.14,876.90L153.26,876.90L153.26,858.83L147.25,858.83L147.25,856.31C150.77,855.91 153.37,854.94 154.37,851.92L156.14,851.92Z"/><text x="163.09" y="876.90" font-size="36.00" xml:space="preserve">0</text><text x="183.11" y="863.40" font-size="28.80" xml:space="preserve">0</text>
<path d="M258.46,876.90L255.58,876.90L255.58,858.83L249.57,858.83L249.57,856.31C253.10,855.91 255.69,854.94 256.70,851.92L258.46,851.92Z"/><text x="265.42" y="876.90" font-size="36.00" xml:space="preserve">0</text><text x="285.44" y="863.40" font-size="28.80" xml:space="preserve">-2</text>
<path d="M365.58,876.90L362.70,876.90L362.70,858.83L356.69,858.83L356.69,856.31C360.22,855.91 362.81,854.94 363.82,851.92L365.58,851.92Z"/><text x="372.54" y="876.90" font-size="36.00" xml:space="preserve">0</text><text x="392.56" y="863.40" font-size="28.80" xml:space="preserve">-4</text>
<path d="M472.70,876.90L469.82,876.90L469.82,858.83L463.81,858.83L463.81,856.31C467.34,855.91 469.93,854.94 470.94,851.92L472.70,851.92Z"/><text x="479.66" y="876.90" font-size="36.00" xml:space="preserve">0</text><text x="499.68" y="863.40" font-size="28.80" xml:space="preserve">-6</text>
<path d="M579.82,876.90L576.94,876.90L576.94,858.83L570.93,858.83L570.93,856.31C574.46,855.91 577.05,854.94 578.06,851.92L579.82,851.92Z"/><text x="586.78" y="876.90" font-size="36.00" xml:space="preserve">0</text><text x="606.80" y="863.40" font-size="28.80" xml:space="preserve">-8</text>
<path d="M678.93,876.90L676.05,876.90L676.05,858.83L670.04,858.83L670.04,856.31C673.57,855.91 676.16,854.94 677.17,851.92L678.93,851.92Z"/><text x="685.89" y="876.90" font-size="36.00" xml:space="preserve">0</text><text x="705.91" y="863.40" font-size="28.80" xml:space="preserve">-</text><path d="M725.95,863.40L723.65,863.40L723.65,848.94L718.84,848.94L718.84,846.93C721.66,846.61 723.74,845.83 724.54,843.41L725.95,843.41Z"/><text x="731.52" y="863.40" font-size="28.80" xml:space="preserve">0</text>
<path d="M762.44,876.90L759.56,876.90L759.56,858.83L753.55,858.83L753.55,856.31C757.07,855.91 759.67,854.94 760.67,851.92L762.44,851.92Z"/><text x="769.39" y="876.90" font-size="36.00" xml:space="preserve">0</text><text x="789.41" y="863.40" font-size="28.80" xml:space="preserve">0</text>
<path d="M864.71,876.90L861.83,876.90L861.83,858.83L855.82,858.83L855.82,856.31C859.35,855.91 861.94,854.94 862.95,851.92L864.71,851.92Z"/><text x="871.67" y="876.90" font-size="36.00" xml:space="preserve">0</text><text x="891.69" y="863.40" font-size="28.80" xml:space="preserve">-2</text>
<path d="M971.78,876.90L968.90,876.90L968.90,858.83L962.89,858.83L962.89,856.31C966.42,855.91 969.01,854.94 970.02,851.92L971.78,851.92Z"/><text x="978.74" y="876.90" font-size="36.00" xml:space="preserve">0</text><text x="998.76" y="863.40" font-size="28.80" xml:space="preserve">-4</text>
<path d="M1078.85,876.90L1075.97,876.90L1075.97,858.83L1069.96,858.83L1069.96,856.31C1073.49,855.91 1076.08,854.94 1077.09,851.92L1078.85,851.92Z"/><text x="1085.81" y="876.90" font-size="36.00" xml:space="preserve">0</text><text x="1105.83" y="863.40" font-size="28.80" xml:space="preserve">-6</text>
<path d="M1185.92,876.90L1183.04,876.90L1183.04,858.83L1177.03,858.83L1177.03,856.31C1180.56,855.91 1183.15,854.94 1184.16,851.92L1185.92,851.92Z"/><text x="1192.88" y="876.90" font-size="36.00" xml:space="preserve">0</text><text x="1212.90" y="863.40" font-size="28.80" xml:space="preserve">-8</text>
<path d="M1284.98,876.90L1282.10,876.90L1282.10,858.83L1276.09,858.83L1276.09,856.31C1279.62,855.91 1282.21,854.94 1283.22,851.92L1284.98,851.92Z"/><text x="1291.94" y="876.90" font-size="36.00" xml:space="preserve">0</text><text x="1311.96" y="863.40" font-size="28.80" xml:space="preserve">-</text><path d="M1332.00,863.40L1329.70,863.40L1329.70,848.94L1324.89,848.94L1324.89,846.93C1327.71,846.61 1329.79,845.83 1330.59,843.41L1332.00,843.41Z"/><text x="1337.57" y="863.40" font-size="28.80" xml:space="preserve">0</text>
<text transform="translate(32.2,270.90) rotate(-90)" font-size="36.7" font-weight="bold" font-style="italic" text-anchor="middle">M<tspan font-size="29.4" dy="8.0">atm</tspan><tspan dy="-8.0"> / M</tspan><tspan font-size="29.4" dy="8.0">solid</tspan></text>
<text transform="translate(32.2,646.50) rotate(-90)" font-size="36.7" font-weight="bold" font-style="italic" text-anchor="middle">M<tspan font-size="29.4" dy="8.0">atm</tspan><tspan dy="-8.0"> / M</tspan><tspan font-size="29.4" dy="8.0">solid</tspan></text>
<text x="440.00" y="913.2" font-size="36.5" font-weight="bold" font-style="italic" text-anchor="middle">f<tspan font-size="29.2" dy="8.2" dx="-1.3">g</tspan></text>
<text x="1046.00" y="913.2" font-size="36.5" font-weight="bold" font-style="italic" text-anchor="middle">f<tspan font-size="29.2" dy="8.2" dx="-1.3">g</tspan></text>
</g>
<g fill="#ff0000" stroke="#ff0000" stroke-width="0.35" font-size="32"><text x="536.1" y="137.60" font-style="italic">X</text><text x="562.8" y="125.00" font-size="25.6">0</text><text x="555.5" y="144.10" font-size="25.6">H<tspan font-size="20.5" dy="6">2</tspan><tspan dy="-6">O</tspan></text><text x="605.90" y="137.60" font-size="32.00" xml:space="preserve">=0.0</text><path d="M680.69,137.60L678.13,137.60L678.13,121.54L672.78,121.54L672.78,119.30C675.92,118.94 678.22,118.08 679.12,115.39L680.69,115.39Z"/></g>
<g fill="#228b22" stroke="#228b22" stroke-width="0.35" font-size="32"><text x="536.1" y="183.30" font-style="italic">X</text><text x="562.8" y="170.70" font-size="25.6">0</text><text x="555.5" y="189.80" font-size="25.6">H<tspan font-size="20.5" dy="6">2</tspan><tspan dy="-6">O</tspan></text><text x="605.90" y="183.30" font-size="32.00" xml:space="preserve">=0.50</text></g>
<g fill="#0000ff" stroke="#0000ff" stroke-width="0.35" font-size="32"><text x="536.1" y="229.00" font-style="italic">X</text><text x="562.8" y="216.40" font-size="25.6">0</text><text x="555.5" y="235.50" font-size="25.6">H<tspan font-size="20.5" dy="6">2</tspan><tspan dy="-6">O</tspan></text><text x="605.90" y="229.00" font-size="32.00" xml:space="preserve">=0.75</text></g>
</svg>
</body></html>
